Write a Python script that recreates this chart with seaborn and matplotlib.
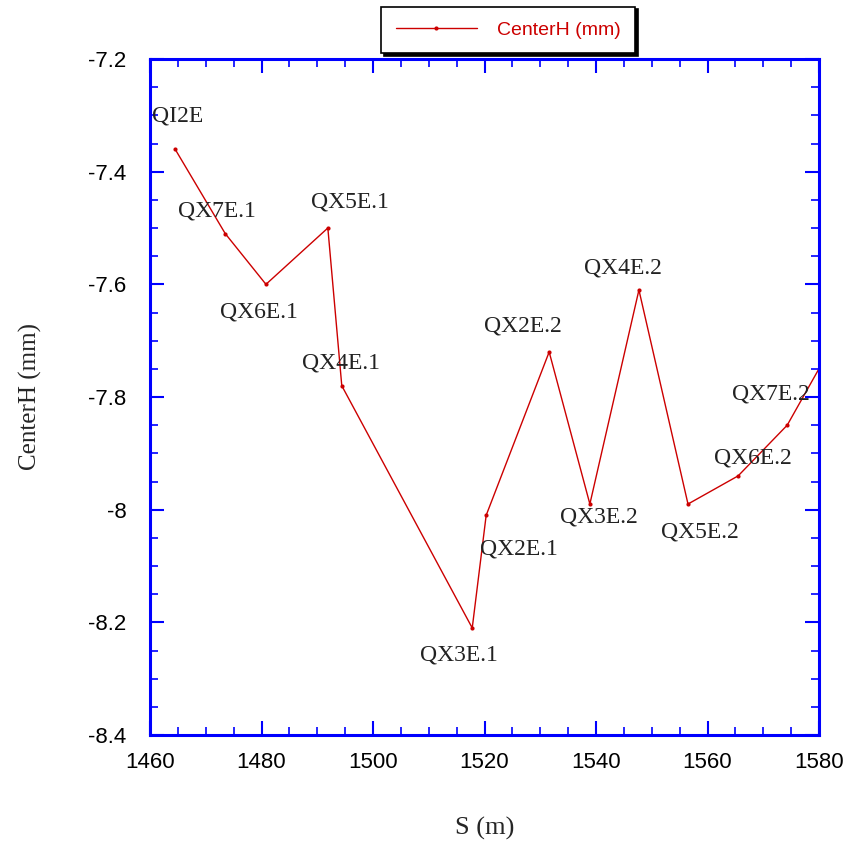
import matplotlib
matplotlib.use("Agg")
import matplotlib.pyplot as plt
import matplotlib.ticker as mticker
import seaborn as sns
import pandas as pd

# ---- data ----
s_m = [1464.5, 1473.5, 1480.8, 1491.9, 1494.4, 1517.8, 1520.3, 1531.6,
       1538.9, 1547.7, 1556.5, 1565.5, 1574.3, 1583.4]
center_h = [-7.36, -7.51, -7.60, -7.50, -7.78, -8.21, -8.01, -7.72,
            -7.99, -7.61, -7.99, -7.94, -7.85, -7.69]
names = ["QI2E", "QX7E.1", "QX6E.1", "QX5E.1", "QX4E.1", "QX3E.1", "QX2E.1",
         "QX2E.2", "QX3E.2", "QX4E.2", "QX5E.2", "QX6E.2", "QX7E.2", "QI2E.2"]
x_ticks = [1460, 1480, 1500, 1520, 1540, 1560, 1580]
y_ticks = [-8.4, -8.2, -8.0, -7.8, -7.6, -7.4, -7.2]
series_name = "CenterH (mm)"

# label offsets in pixels (layout only)
label_offsets = [(3, 33), (-8, 23), (-7, -28), (22, 26), (-1, 23), (-13, -27),
                 (33, -34), (-26, 26), (9, -13), (-16, 22), (12, -28),
                 (15, 18), (-16, 31), (0, 25)]

df = pd.DataFrame({"S": s_m, "H": center_h})

sns.set_style("white")
plt.rcParams["axes.unicode_minus"] = False
plt.rcParams["font.family"] = ["Liberation Sans", "DejaVu Sans"]

fig = plt.figure(figsize=(8.45, 8.48), dpi=100)
ax = fig.add_axes([150 / 845, 113 / 848, 669 / 845, 676 / 848])

red = "#cc0000"
blue = "#0000ff"
sns.lineplot(data=df, x="S", y="H", ax=ax, color=red, lw=1.0, marker="o",
             markersize=3, markeredgewidth=0, sort=False, label=series_name)

for (xv, yv, nm, off) in zip(s_m, center_h, names, label_offsets):
    ax.annotate(nm, xy=(xv, yv), xytext=off, textcoords="offset pixels",
                ha="center", va="center", fontsize=17,
                family=["Liberation Serif", "DejaVu Serif"], color="#222222",
                annotation_clip=True)

ax.set_xlim(1460, 1580)
ax.set_ylim(-8.4, -7.2)
ax.set_xticks(x_ticks)
ax.set_yticks(y_ticks)
ax.xaxis.set_minor_locator(mticker.MultipleLocator(5))
ax.yaxis.set_minor_locator(mticker.MultipleLocator(0.05))
ax.yaxis.set_major_formatter(mticker.FormatStrFormatter("%g"))
ax.xaxis.set_major_formatter(mticker.FormatStrFormatter("%g"))

for sp in ax.spines.values():
    sp.set_color(blue)
    sp.set_linewidth(2.2)
ax.tick_params(which="both", direction="in", top=True, right=True,
               left=True, bottom=True,
               color=blue, labelsize=16, labelcolor="black")
ax.tick_params(which="major", length=10, width=1.5)
ax.tick_params(which="minor", length=6, width=1.2)
ax.tick_params(axis="x", which="major", pad=12)
ax.tick_params(axis="y", which="major", pad=17)

ax.set_xlabel("S (m)", fontsize=19, family=["Liberation Serif", "DejaVu Serif"],
              labelpad=32)
ax.set_ylabel("CenterH (mm)", fontsize=18, family=["Liberation Serif", "DejaVu Serif"],
              labelpad=33)

leg = ax.legend(loc="center", bbox_to_anchor=(508 / 845, 1 - 30 / 848),
                bbox_transform=fig.transFigure, frameon=True, fancybox=False,
                shadow={"color": "black", "alpha": 1.0}, fontsize=14,
                labelcolor=red, handlelength=4.2, borderpad=0.75,
                handletextpad=1.0)
leg.get_frame().set_edgecolor("black")
leg.get_frame().set_linewidth(1.2)

fig.savefig("out.png", dpi=100)
